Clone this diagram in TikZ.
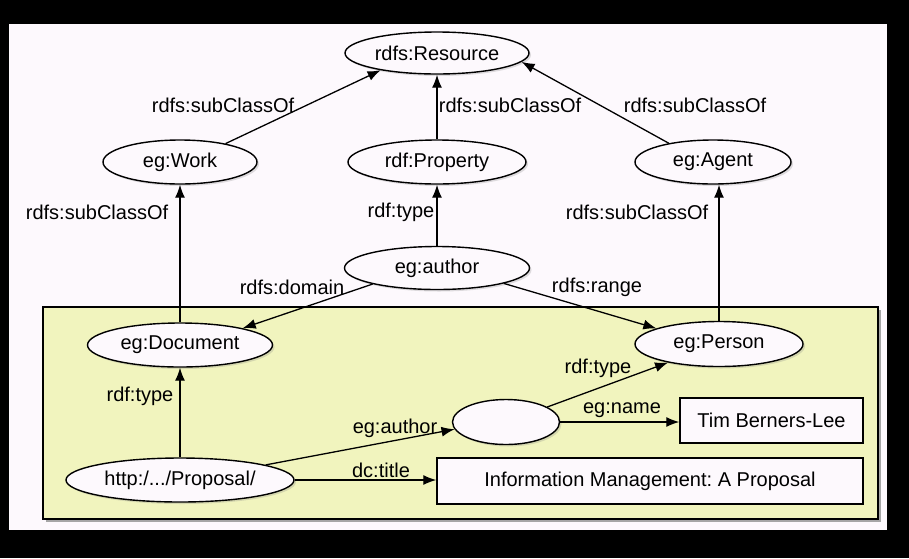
\documentclass[tikz,border=0pt]{standalone}
\usepackage{fontspec}
\setmainfont{Liberation Sans}
\frenchspacing
\usetikzlibrary{shapes.geometric,arrows.meta,shadows}
\definecolor{paper}{RGB}{253,249,253}
\definecolor{pale}{RGB}{241,244,190}

\begin{document}
\begin{tikzpicture}[x=1pt,y=-1pt,
    font=\fontsize{20}{23}\selectfont,
    cls/.style={ellipse, draw, line width=1.4pt, fill=paper, inner sep=0pt,
        drop shadow={shadow xshift=2pt,shadow yshift=-2pt,opacity=0.25}},
    lit/.style={rectangle, draw, line width=1.4pt, fill=paper, inner sep=0pt},
    rel/.style={-{Latex[length=13pt,width=10pt]}, line width=1.3pt},
    lbl/.style={inner sep=0pt}]
    \useasboundingbox (0,0) rectangle (909,558);
    \fill[black] (0,0) rectangle (909,558);
    \fill[paper] (9,24) rectangle (887,530);
    \fill[black!35] (46,310) rectangle (881,522);
    \filldraw[fill=pale, line width=1.4pt] (43,307) rectangle (878,519);

    \node[cls, minimum width=184pt, minimum height=42pt] (res) at (437,53) {rdfs:Resource};
    \node[cls, minimum width=154pt, minimum height=44pt] (work) at (180,162) {eg:Work};
    \node[cls, minimum width=178pt, minimum height=44pt] (prop) at (437,162) {rdf:Property};
    \node[cls, minimum width=156pt, minimum height=44pt] (agent) at (713,162) {eg:Agent};
    \node[cls, minimum width=185pt, minimum height=43pt] (author) at (437,268) {eg:author};
    \node[cls, minimum width=185pt, minimum height=44pt] (doc) at (180,345) {eg:Document};
    \node[cls, minimum width=168pt, minimum height=45pt] (person) at (719,344) {eg:Person};
    \node[cls, minimum width=228pt, minimum height=44pt] (url) at (180,480) {http:/.../Proposal/};
    \node[cls, minimum width=107pt, minimum height=45pt] (blank) at (506,422) {};
    \node[lit, minimum width=183pt, minimum height=45pt] (tim) at (771.5,420.5) {Tim Berners-Lee};
    \node[lit, minimum width=426pt, minimum height=46pt] (info) at (650,481) {Information Management: A Proposal};

    \draw[rel] (work.22) -- (res.197);
    \draw[rel] (prop) -- (res);
    \draw[rel] (agent.157) -- (res.-6);
    \draw[rel] (doc) -- (work);
    \draw[rel] (author) -- (prop);
    \draw[rel] (person.north) -- (person.north |- agent.south);
    \draw[rel] (author.194) -- (doc.15);
    \draw[rel] (author.-13) -- (person.166);
    \draw[rel] (url) -- (doc);
    \draw[rel] (url.10) -- (blank.188);
    \draw[rel] (url.east) -- (url.east -| info.west);
    \draw[rel] (blank.20) -- (person.200);
    \draw[rel] (blank.east) -- (blank.east -| tim.west);

    \node[lbl] (l1) at (223,105) {rdfs:subClassOf};
    \node[lbl] (l2) at (510,105) {rdfs:subClassOf};
    \node[lbl] (l3) at (695,105) {rdfs:subClassOf};
    \node[lbl] (l4) at (97,212) {rdfs:subClassOf};
    \node[lbl] (l5) at (401,212) {rdf:type};
    \node[lbl] (l6) at (637,212) {rdfs:subClassOf};
    \node[lbl] (l7) at (292,287) {rdfs:domain};
    \node[lbl] (l8) at (597,287) {rdfs:range};
    \node[lbl] (l9) at (140,396) {rdf:type};
    \node[lbl] (l10) at (395,428) {eg:author};
    \node[lbl] (l11) at (598,368) {rdf:type};
    \node[lbl] (l12) at (622,410) {eg:name};
    \node[lbl] (l13) at (381,470) {dc:title};
\end{tikzpicture}
\end{document}
